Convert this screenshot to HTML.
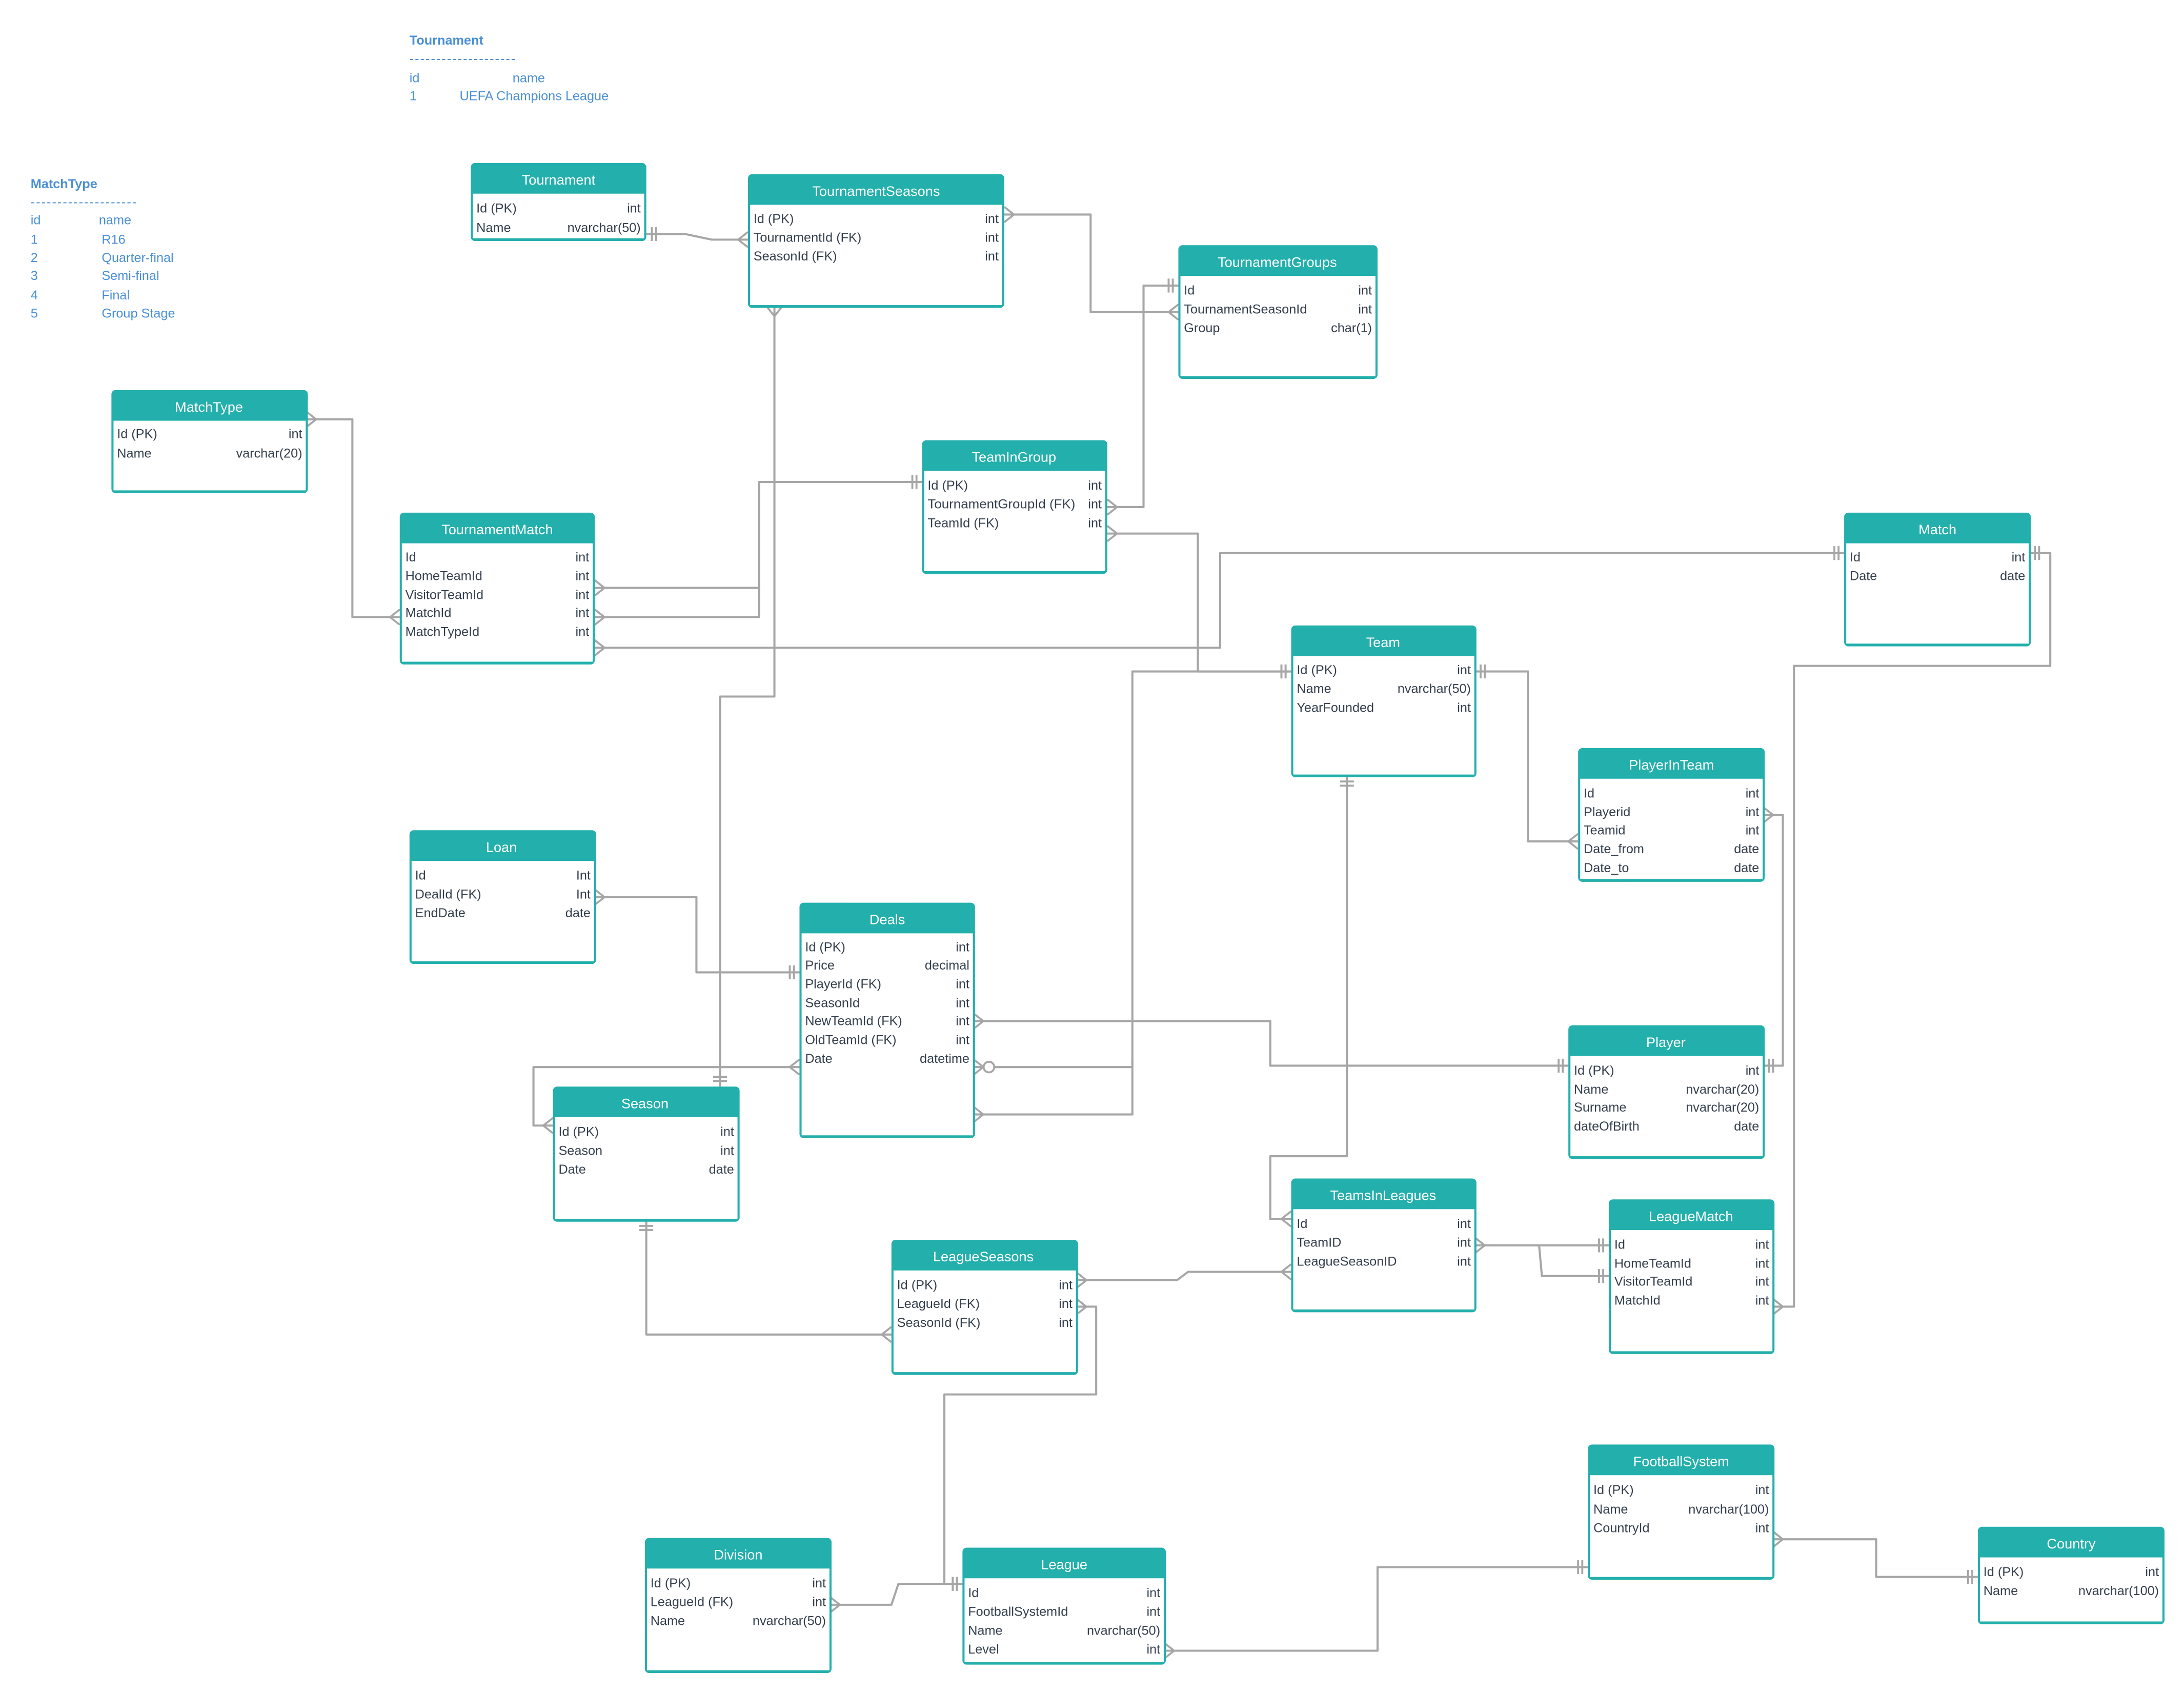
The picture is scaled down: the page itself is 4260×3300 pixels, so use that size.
<!DOCTYPE html>
<html><head><meta charset="utf-8"><style>
html,body{margin:0;padding:0;background:#fff;}
svg{display:block;}
text{font-family:"Liberation Sans",sans-serif;}
.h{fill:#fff;font-size:10px;text-anchor:middle;}
.r{fill:#34404e;font-size:9.3px;}
.e{text-anchor:end;}
.n{fill:#4a8fd6;font-size:9.3px;}
.c{fill:none;stroke:#a6a6a6;stroke-width:1.5;stroke-linejoin:round;}
</style></head><body>
<svg width="4260" height="3300" viewBox="0 0 1568 1214.6" xmlns="http://www.w3.org/2000/svg">
<defs>
<marker id="m" viewBox="-20 -10 24 20" refX="0" refY="0" markerWidth="24" markerHeight="20" markerUnits="userSpaceOnUse" orient="auto-start-reverse" overflow="visible">
<path d="M0,-5.5 L-7,0 L0,5.5" fill="none" stroke="#a6a6a6" stroke-width="1.4"/></marker>
<marker id="o" viewBox="-20 -10 24 20" refX="0" refY="0" markerWidth="24" markerHeight="20" markerUnits="userSpaceOnUse" orient="auto-start-reverse" overflow="visible">
<path d="M-4,-5 L-4,5 M-7,-5 L-7,5" fill="none" stroke="#a6a6a6" stroke-width="1.4"/></marker>
<marker id="z" viewBox="-20 -10 24 20" refX="0" refY="0" markerWidth="24" markerHeight="20" markerUnits="userSpaceOnUse" orient="auto-start-reverse" overflow="visible">
<path d="M0,-5.5 L-7,0 L0,5.5" fill="none" stroke="#a6a6a6" stroke-width="1.4"/><circle cx="-11" cy="0" r="3.8" fill="#fff" stroke="#a6a6a6" stroke-width="1.4"/></marker>
</defs>

<text class="n" x="294" y="32" style="font-weight:bold">Tournament</text>
<text class="n" x="294" y="45" textLength="76" lengthAdjust="spacing">--------------------</text>
<text class="n" x="294" y="59">id</text><text class="n" x="368" y="59">name</text>
<text class="n" x="294" y="72">1</text><text class="n" x="330" y="72">UEFA Champions League</text>

<text class="n" x="22" y="135" style="font-weight:bold">MatchType</text>
<text class="n" x="22" y="148" textLength="76" lengthAdjust="spacing">--------------------</text>
<text class="n" x="22" y="161">id</text><text class="n" x="71" y="161">name</text>
<text class="n" x="22" y="175">1</text><text class="n" x="73" y="175">R16</text>
<text class="n" x="22" y="188">2</text><text class="n" x="73" y="188">Quarter-final</text>
<text class="n" x="22" y="201">3</text><text class="n" x="73" y="201">Semi-final</text>
<text class="n" x="22" y="215">4</text><text class="n" x="73" y="215">Final</text>
<text class="n" x="22" y="228">5</text><text class="n" x="73" y="228">Group Stage</text>

<path class="c" d="M464,168 L492,168 L511,172 L537,172" marker-start="url(#o)" marker-end="url(#m)"/>
<path class="c" d="M721,154 L783,154 L783,224 L846,224" marker-start="url(#m)" marker-end="url(#m)"/>
<path class="c" d="M556,220 L556,500 L517,500 L517,780" marker-start="url(#m)" marker-end="url(#o)"/>
<path class="c" d="M846,205 L821,205 L821,364 L795,364" marker-start="url(#o)" marker-end="url(#m)"/>
<path class="c" d="M662,346 L545,346 L545,422 L427,422" marker-start="url(#o)" marker-end="url(#m)"/>
<path class="c" d="M545,420 L545,443 L427,443" marker-end="url(#m)"/>
<path class="c" d="M795,383 L860,383 L860,482 L927,482" marker-start="url(#m)" marker-end="url(#o)"/>
<path class="c" d="M220,301 L253,301 L253,443 L287,443" marker-start="url(#m)" marker-end="url(#m)"/>
<path class="c" d="M427,465 L876,465 L876,397 L1324,397" marker-start="url(#m)" marker-end="url(#o)"/>
<path class="c" d="M1059,482 L1097,482 L1097,604 L1133,604" marker-start="url(#o)" marker-end="url(#m)"/>
<path class="c" d="M927,482 L813,482 L813,766 L699,766" marker-start="url(#o)" marker-end="url(#z)"/>
<path class="c" d="M813,760 L813,800 L699,800" marker-end="url(#m)"/>
<path class="c" d="M967,557 L967,830 L912,830 L912,875 L927,875" marker-start="url(#o)" marker-end="url(#m)"/>
<path class="c" d="M1266,585 L1280,585 L1280,765 L1266,765" marker-start="url(#m)" marker-end="url(#o)"/>
<path class="c" d="M1126,765 L912,765 L912,733 L699,733" marker-start="url(#o)" marker-end="url(#m)"/>
<path class="c" d="M427,644 L500,644 L500,698 L574,698" marker-start="url(#m)" marker-end="url(#o)"/>
<path class="c" d="M574,766 L383,766 L383,808 L397,808" marker-start="url(#m)" marker-end="url(#m)"/>
<path class="c" d="M1457,397 L1472,397 L1472,478 L1288,478 L1288,938 L1273,938" marker-start="url(#o)" marker-end="url(#m)"/>
<path class="c" d="M1059,894 L1155,894" marker-start="url(#m)" marker-end="url(#o)"/>
<path class="c" d="M1105,894 L1107,916 L1155,916" marker-end="url(#o)"/>
<path class="c" d="M927,913 L853,913 L845,919 L773,919" marker-start="url(#m)" marker-end="url(#m)"/>
<path class="c" d="M464,876 L464,958 L640,958" marker-start="url(#o)" marker-end="url(#m)"/>
<path class="c" d="M773,938 L787,938 L787,1001 L678,1001 L678,1137 L691,1137" marker-start="url(#m)" marker-end="url(#o)"/>
<path class="c" d="M596,1152 L640,1152 L645,1137 L691,1137" marker-start="url(#m)" marker-end="url(#o)"/>
<path class="c" d="M836,1185 L989,1185 L989,1125 L1140,1125" marker-start="url(#m)" marker-end="url(#o)"/>
<path class="c" d="M1273,1105 L1347,1105 L1347,1132 L1420,1132" marker-start="url(#m)" marker-end="url(#o)"/>

<g id="ents">
<rect x="338" y="117" width="126" height="56" rx="3" fill="#23afac"/><rect x="339.5" y="139" width="123" height="32" fill="#fff"/>
<text class="h" x="401" y="132.5">Tournament</text>
<text class="r" x="342" y="152.5">Id (PK)</text><text class="r e" x="460" y="152.5">int</text>
<text class="r" x="342" y="166.5">Name</text><text class="r e" x="460" y="166.5">nvarchar(50)</text>

<rect x="537" y="125" width="184" height="96" rx="3" fill="#23afac"/><rect x="538.5" y="147" width="181" height="72" fill="#fff"/>
<text class="h" x="629" y="140.5">TournamentSeasons</text>
<text class="r" x="541" y="160">Id (PK)</text><text class="r e" x="717" y="160">int</text>
<text class="r" x="541" y="173.5">TournamentId (FK)</text><text class="r e" x="717" y="173.5">int</text>
<text class="r" x="541" y="187">SeasonId (FK)</text><text class="r e" x="717" y="187">int</text>

<rect x="846" y="176" width="143" height="96" rx="3" fill="#23afac"/><rect x="847.5" y="198" width="140" height="72" fill="#fff"/>
<text class="h" x="917" y="191.5">TournamentGroups</text>
<text class="r" x="850" y="211.5">Id</text><text class="r e" x="985" y="211.5">int</text>
<text class="r" x="850" y="225">TournamentSeasonId</text><text class="r e" x="985" y="225">int</text>
<text class="r" x="850" y="238.5">Group</text><text class="r e" x="985" y="238.5">char(1)</text>

<rect x="80" y="280" width="141" height="74" rx="3" fill="#23afac"/><rect x="81.5" y="302" width="138" height="50" fill="#fff"/>
<text class="h" x="150" y="295.5">MatchType</text>
<text class="r" x="84" y="314.5">Id (PK)</text><text class="r e" x="217" y="314.5">int</text>
<text class="r" x="84" y="328.5">Name</text><text class="r e" x="217" y="328.5">varchar(20)</text>

<rect x="662" y="316" width="133" height="96" rx="3" fill="#23afac"/><rect x="663.5" y="338" width="130" height="72" fill="#fff"/>
<text class="h" x="728" y="331.5">TeamInGroup</text>
<text class="r" x="666" y="351.5">Id (PK)</text><text class="r e" x="791" y="351.5">int</text>
<text class="r" x="666" y="365" textLength="106" lengthAdjust="spacingAndGlyphs">TournamentGroupId (FK)</text><text class="r e" x="791" y="365">int</text>
<text class="r" x="666" y="378.5">TeamId (FK)</text><text class="r e" x="791" y="378.5">int</text>

<rect x="287" y="368" width="140" height="109" rx="3" fill="#23afac"/><rect x="288.5" y="390" width="137" height="85" fill="#fff"/>
<text class="h" x="357" y="383.5">TournamentMatch</text>
<text class="r" x="291" y="403">Id</text><text class="r e" x="423" y="403">int</text>
<text class="r" x="291" y="416.5">HomeTeamId</text><text class="r e" x="423" y="416.5">int</text>
<text class="r" x="291" y="430">VisitorTeamId</text><text class="r e" x="423" y="430">int</text>
<text class="r" x="291" y="443">MatchId</text><text class="r e" x="423" y="443">int</text>
<text class="r" x="291" y="456.5">MatchTypeId</text><text class="r e" x="423" y="456.5">int</text>

<rect x="1324" y="368" width="134" height="96" rx="3" fill="#23afac"/><rect x="1325.5" y="390" width="131" height="72" fill="#fff"/>
<text class="h" x="1391" y="383.5">Match</text>
<text class="r" x="1328" y="403">Id</text><text class="r e" x="1454" y="403">int</text>
<text class="r" x="1328" y="416.5">Date</text><text class="r e" x="1454" y="416.5">date</text>

<rect x="927" y="449" width="133" height="109" rx="3" fill="#23afac"/><rect x="928.5" y="471" width="130" height="85" fill="#fff"/>
<text class="h" x="993" y="464.5">Team</text>
<text class="r" x="931" y="484">Id (PK)</text><text class="r e" x="1056" y="484">int</text>
<text class="r" x="931" y="497.5">Name</text><text class="r e" x="1056" y="497.5">nvarchar(50)</text>
<text class="r" x="931" y="511">YearFounded</text><text class="r e" x="1056" y="511">int</text>

<rect x="1133" y="537" width="134" height="96" rx="3" fill="#23afac"/><rect x="1134.5" y="559" width="131" height="72" fill="#fff"/>
<text class="h" x="1200" y="552.5">PlayerInTeam</text>
<text class="r" x="1137" y="572.5">Id</text><text class="r e" x="1263" y="572.5">int</text>
<text class="r" x="1137" y="586">Playerid</text><text class="r e" x="1263" y="586">int</text>
<text class="r" x="1137" y="599">Teamid</text><text class="r e" x="1263" y="599">int</text>
<text class="r" x="1137" y="612.5">Date_from</text><text class="r e" x="1263" y="612.5">date</text>
<text class="r" x="1137" y="626">Date_to</text><text class="r e" x="1263" y="626">date</text>

<rect x="294" y="596" width="134" height="96" rx="3" fill="#23afac"/><rect x="295.5" y="618" width="131" height="72" fill="#fff"/>
<text class="h" x="360" y="611.5">Loan</text>
<text class="r" x="298" y="631.5">Id</text><text class="r e" x="424" y="631.5">Int</text>
<text class="r" x="298" y="645">DealId (FK)</text><text class="r e" x="424" y="645">Int</text>
<text class="r" x="298" y="658.5">EndDate</text><text class="r e" x="424" y="658.5">date</text>

<rect x="574" y="648" width="126" height="169" rx="3" fill="#23afac"/><rect x="575.5" y="670" width="123" height="145" fill="#fff"/>
<text class="h" x="637" y="663.5">Deals</text>
<text class="r" x="578" y="683">Id (PK)</text><text class="r e" x="696" y="683">int</text>
<text class="r" x="578" y="696">Price</text><text class="r e" x="696" y="696">decimal</text>
<text class="r" x="578" y="709.5">PlayerId (FK)</text><text class="r e" x="696" y="709.5">int</text>
<text class="r" x="578" y="723">SeasonId</text><text class="r e" x="696" y="723">int</text>
<text class="r" x="578" y="736">NewTeamId (FK)</text><text class="r e" x="696" y="736">int</text>
<text class="r" x="578" y="749.5">OldTeamId (FK)</text><text class="r e" x="696" y="749.5">int</text>
<text class="r" x="578" y="763">Date</text><text class="r e" x="696" y="763">datetime</text>

<rect x="1126" y="736" width="141" height="96" rx="3" fill="#23afac"/><rect x="1127.5" y="758" width="138" height="72" fill="#fff"/>
<text class="h" x="1196" y="751.5">Player</text>
<text class="r" x="1130" y="771.5">Id (PK)</text><text class="r e" x="1263" y="771.5">int</text>
<text class="r" x="1130" y="785">Name</text><text class="r e" x="1263" y="785">nvarchar(20)</text>
<text class="r" x="1130" y="798">Surname</text><text class="r e" x="1263" y="798">nvarchar(20)</text>
<text class="r" x="1130" y="811.5">dateOfBirth</text><text class="r e" x="1263" y="811.5">date</text>

<rect x="397" y="780" width="134" height="97" rx="3" fill="#23afac"/><rect x="398.5" y="802" width="131" height="73" fill="#fff"/>
<text class="h" x="463" y="795.5">Season</text>
<text class="r" x="401" y="815.5">Id (PK)</text><text class="r e" x="527" y="815.5">int</text>
<text class="r" x="401" y="829">Season</text><text class="r e" x="527" y="829">int</text>
<text class="r" x="401" y="842.5">Date</text><text class="r e" x="527" y="842.5">date</text>

<rect x="927" y="846" width="133" height="96" rx="3" fill="#23afac"/><rect x="928.5" y="868" width="130" height="72" fill="#fff"/>
<text class="h" x="993" y="861.5">TeamsInLeagues</text>
<text class="r" x="931" y="881.5">Id</text><text class="r e" x="1056" y="881.5">int</text>
<text class="r" x="931" y="895">TeamID</text><text class="r e" x="1056" y="895">int</text>
<text class="r" x="931" y="908.5">LeagueSeasonID</text><text class="r e" x="1056" y="908.5">int</text>

<rect x="1155" y="861" width="119" height="111" rx="3" fill="#23afac"/><rect x="1156.5" y="883" width="116" height="87" fill="#fff"/>
<text class="h" x="1214" y="876.5">LeagueMatch</text>
<text class="r" x="1159" y="896.5">Id</text><text class="r e" x="1270" y="896.5">int</text>
<text class="r" x="1159" y="910">HomeTeamId</text><text class="r e" x="1270" y="910">int</text>
<text class="r" x="1159" y="923">VisitorTeamId</text><text class="r e" x="1270" y="923">int</text>
<text class="r" x="1159" y="936.5">MatchId</text><text class="r e" x="1270" y="936.5">int</text>

<rect x="640" y="890" width="134" height="97" rx="3" fill="#23afac"/><rect x="641.5" y="912" width="131" height="73" fill="#fff"/>
<text class="h" x="706" y="905.5">LeagueSeasons</text>
<text class="r" x="644" y="925.5">Id (PK)</text><text class="r e" x="770" y="925.5">int</text>
<text class="r" x="644" y="939">LeagueId (FK)</text><text class="r e" x="770" y="939">int</text>
<text class="r" x="644" y="952.5">SeasonId (FK)</text><text class="r e" x="770" y="952.5">int</text>

<rect x="1140" y="1037" width="134" height="97" rx="3" fill="#23afac"/><rect x="1141.5" y="1059" width="131" height="73" fill="#fff"/>
<text class="h" x="1207" y="1052.5">FootballSystem</text>
<text class="r" x="1144" y="1072.5">Id (PK)</text><text class="r e" x="1270" y="1072.5">int</text>
<text class="r" x="1144" y="1086.5">Name</text><text class="r e" x="1270" y="1086.5">nvarchar(100)</text>
<text class="r" x="1144" y="1100">CountryId</text><text class="r e" x="1270" y="1100">int</text>

<rect x="1420" y="1096" width="134" height="70" rx="3" fill="#23afac"/><rect x="1421.5" y="1118" width="131" height="46" fill="#fff"/>
<text class="h" x="1487" y="1111.5">Country</text>
<text class="r" x="1424" y="1131.5">Id (PK)</text><text class="r e" x="1550" y="1131.5">int</text>
<text class="r" x="1424" y="1145">Name</text><text class="r e" x="1550" y="1145">nvarchar(100)</text>

<rect x="463" y="1104" width="134" height="97" rx="3" fill="#23afac"/><rect x="464.5" y="1126" width="131" height="73" fill="#fff"/>
<text class="h" x="530" y="1119.5">Division</text>
<text class="r" x="467" y="1139.5">Id (PK)</text><text class="r e" x="593" y="1139.5">int</text>
<text class="r" x="467" y="1153">LeagueId (FK)</text><text class="r e" x="593" y="1153">int</text>
<text class="r" x="467" y="1166.5">Name</text><text class="r e" x="593" y="1166.5">nvarchar(50)</text>

<rect x="691" y="1111" width="146" height="84" rx="3" fill="#23afac"/><rect x="692.5" y="1133" width="143" height="60" fill="#fff"/>
<text class="h" x="764" y="1126.5">League</text>
<text class="r" x="695" y="1146.5">Id</text><text class="r e" x="833" y="1146.5">int</text>
<text class="r" x="695" y="1160">FootballSystemId</text><text class="r e" x="833" y="1160">int</text>
<text class="r" x="695" y="1173.5">Name</text><text class="r e" x="833" y="1173.5">nvarchar(50)</text>
<text class="r" x="695" y="1187">Level</text><text class="r e" x="833" y="1187">int</text>
</g>
</svg>
</body></html>
